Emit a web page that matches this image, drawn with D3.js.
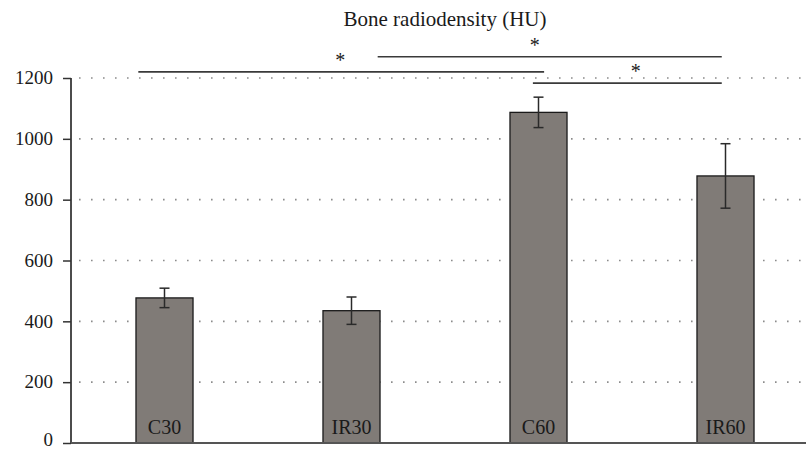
<!DOCTYPE html>
<html>
<head>
<meta charset="utf-8">
<script src="https://cdn.jsdelivr.net/npm/d3@7"></script>
<style>
  body { margin: 0; background: #fff; }
  svg text { font-family: "Liberation Serif", "Times New Roman", "DejaVu Serif", "Noto Serif", serif; fill: #1a1a1a; }
</style>
</head>
<body>
<svg id="chart" width="806" height="449"></svg>
<script>
let groups = ["C30", "IR30", "C60", "IR60"];
let means = [477, 435, 1087, 878];
let errors = [32, 45, 50, 106];
let yTicks = [0, 200, 400, 600, 800, 1000, 1200];
// significance brackets: start/end as group positions, level in HU, star position
let compFrom = [-0.14, 1.14, 1.97];
let compTo = [2.03, 2.98, 2.98];
let compLevel = [1220, 1270, 1183];
let starPos = [0.94, 1.98, 2.52];

let width = 806;
let height = 449;
let plotLeft = 71, plotRight = 819, plotTop = 78, plotBottom = 443;
let serif = "'Liberation Serif', 'Times New Roman', 'DejaVu Serif', serif";

let svg = d3.select("#chart");

let x = d3.scaleBand().domain(groups).range([plotLeft, plotRight])
          .paddingInner(0.695).paddingOuter(0.3475);
let pos = d3.scaleLinear().domain([0, groups.length - 1])
            .range([x(groups[0]) + x.bandwidth() / 2, x(groups[groups.length - 1]) + x.bandwidth() / 2]);
let y = d3.scaleLinear().domain([0, 1200]).range([plotBottom, plotTop]);

// title
svg.append("text")
   .attr("x", 445).attr("y", 26)
   .attr("text-anchor", "middle")
   .style("font-family", serif)
   .style("font-size", "21px")
   .text("Bone radiodensity (HU)");

// dotted grid
svg.append("g").selectAll("line")
   .data(yTicks.filter(d => d > 0))
   .enter().append("line")
   .attr("x1", plotLeft + 8).attr("x2", width)
   .attr("y1", d => y(d)).attr("y2", d => y(d))
   .attr("stroke", "#8c8c8c")
   .attr("stroke-width", 1.6)
   .attr("stroke-dasharray", "1.6,10.4");

// y axis
let yAxis = svg.append("g")
   .attr("transform", `translate(${plotLeft},0)`)
   .call(d3.axisLeft(y).tickValues(yTicks).tickSize(8).tickPadding(10).tickFormat(d3.format("d")));
yAxis.select(".domain").attr("stroke", "#111").attr("stroke-width", 1.5)
     .attr("d", `M0,${y(1200)}V${y(0)}`);
yAxis.selectAll(".tick line").attr("stroke", "#333").attr("stroke-width", 1.5);
yAxis.selectAll(".tick text")
     .style("font-family", serif)
     .style("font-size", "19px").attr("fill", "#1a1a1a")
     .attr("dy", d => d === 0 ? "0.15em" : "0.3em");

// bars
svg.append("g").selectAll("rect")
   .data(groups)
   .enter().append("rect")
   .attr("x", d => x(d))
   .attr("y", (d, i) => y(means[i]))
   .attr("width", x.bandwidth())
   .attr("height", (d, i) => y(0) - y(means[i]))
   .attr("fill", "#807b77")
   .attr("stroke", "#1a1a1a")
   .attr("stroke-width", 1.3);

// baseline
svg.append("line")
   .attr("x1", plotLeft).attr("x2", width)
   .attr("y1", y(0)).attr("y2", y(0))
   .attr("stroke", "#555").attr("stroke-width", 2);

// bar labels
svg.append("g").selectAll("text")
   .data(groups)
   .enter().append("text")
   .attr("x", d => x(d) + x.bandwidth() / 2)
   .attr("y", y(0) - 9)
   .attr("text-anchor", "middle")
   .style("font-family", serif)
   .style("font-size", "20px")
   .text(d => d);

// error bars
let eb = svg.append("g").attr("stroke", "#2a2a2a").attr("stroke-width", 1.5);
groups.forEach(function(g, i){
  let cx = x(g) + x.bandwidth() / 2;
  eb.append("line").attr("x1", cx).attr("x2", cx)
    .attr("y1", y(means[i] + errors[i])).attr("y2", y(means[i] - errors[i]));
  eb.append("line").attr("x1", cx - 5).attr("x2", cx + 5)
    .attr("y1", y(means[i] + errors[i])).attr("y2", y(means[i] + errors[i]));
  eb.append("line").attr("x1", cx - 5).attr("x2", cx + 5)
    .attr("y1", y(means[i] - errors[i])).attr("y2", y(means[i] - errors[i]));
});

// significance lines
svg.append("g").selectAll("line")
   .data(compLevel)
   .enter().append("line")
   .attr("x1", (d, i) => pos(compFrom[i]))
   .attr("x2", (d, i) => pos(compTo[i]))
   .attr("y1", d => y(d)).attr("y2", d => y(d))
   .attr("stroke", "#3a3a3a").attr("stroke-width", 1.6);

svg.append("g").selectAll("text")
   .data(compLevel)
   .enter().append("text")
   .attr("x", (d, i) => pos(starPos[i]))
   .attr("y", d => y(d) - 5)
   .attr("text-anchor", "middle")
   .style("font-family", serif)
   .style("font-size", "20px")
   .text("*");
</script>
</body>
</html>
